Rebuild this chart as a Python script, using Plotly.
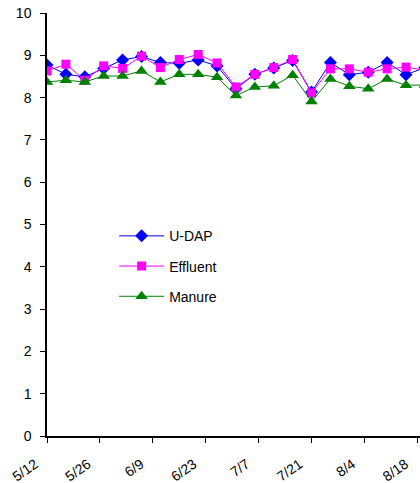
import plotly.graph_objects as go
import pandas as pd

dates = pd.date_range("2008-05-12", periods=21, freq="5D")

udap = [8.77, 8.55, 8.49, 8.69, 8.89, 8.97, 8.83, 8.81, 8.89, 8.75, 8.21, 8.55, 8.70,
        8.88, 8.13, 8.83, 8.54, 8.60, 8.83, 8.54, 8.71]
effluent = [8.63, 8.79, 8.41, 8.75, 8.69, 8.98, 8.71, 8.90, 9.02, 8.82, 8.25, 8.55, 8.71,
            8.90, 8.11, 8.68, 8.68, 8.60, 8.68, 8.72, 8.65]
manure = [8.37, 8.41, 8.37, 8.51, 8.51, 8.63, 8.37, 8.55, 8.55, 8.48, 8.05, 8.25, 8.28,
          8.53, 7.91, 8.44, 8.27, 8.21, 8.44, 8.29, 8.30]

tick_dates = pd.date_range("2008-05-12", periods=8, freq="14D")
tick_labels = ["5/12", "5/26", "6/9", "6/23", "7/7", "7/21", "8/4", "8/18"]

font = "Liberation Sans, Arial, sans-serif"

fig = go.Figure()
series = [
    ("U-DAP", udap, "#0000FF", "diamond", 10),
    ("Effluent", effluent, "#FF00FF", "square", 9),
    ("Manure", manure, "#008000", "triangle-up", 11),
]
for i, (name, vals, col, sym, sz) in enumerate(series):
    fig.add_trace(go.Scatter(
        x=dates, y=vals, name=name, mode="lines+markers",
        line=dict(color=col, width=1),
        marker=dict(symbol=sym, size=sz, color=col),
        legendgroup=f"g{i}",
    ))

x_end = pd.Timestamp("2008-05-12") + pd.Timedelta(days=98.7)

fig.update_layout(
    width=420, height=483,
    margin=dict(l=47, r=0, t=13, b=47),
    paper_bgcolor="white", plot_bgcolor="white",
    font=dict(family=font, size=13, color="black"),
    showlegend=True,
    legend=dict(x=0.18, y=0.51, xanchor="left", yanchor="top",
                font=dict(family=font, size=14, color="black"),
                tracegroupgap=9, traceorder="grouped", itemwidth=45,
                bgcolor="rgba(0,0,0,0)"),
    xaxis=dict(range=[pd.Timestamp("2008-05-12"), x_end],
               tickvals=list(tick_dates), ticktext=tick_labels,
               tickangle=-35, showgrid=False, zeroline=False,
               showline=True, linecolor="black", linewidth=1.5,
               ticks="outside", ticklen=5, tickcolor="black",
               ticklabeloverflow="allow", ticklabelstandoff=8,
               ticklabelshift=-12, automargin=False,
               tickfont=dict(size=14)),
    yaxis=dict(range=[0, 10], dtick=1, showgrid=False, zeroline=False,
               showline=True, linecolor="black", linewidth=1.5,
               ticks="outside", ticklen=5, tickcolor="black",
               ticklabelstandoff=6, automargin=False,
               tickfont=dict(size=14)),
)

fig.write_html("out.html")
